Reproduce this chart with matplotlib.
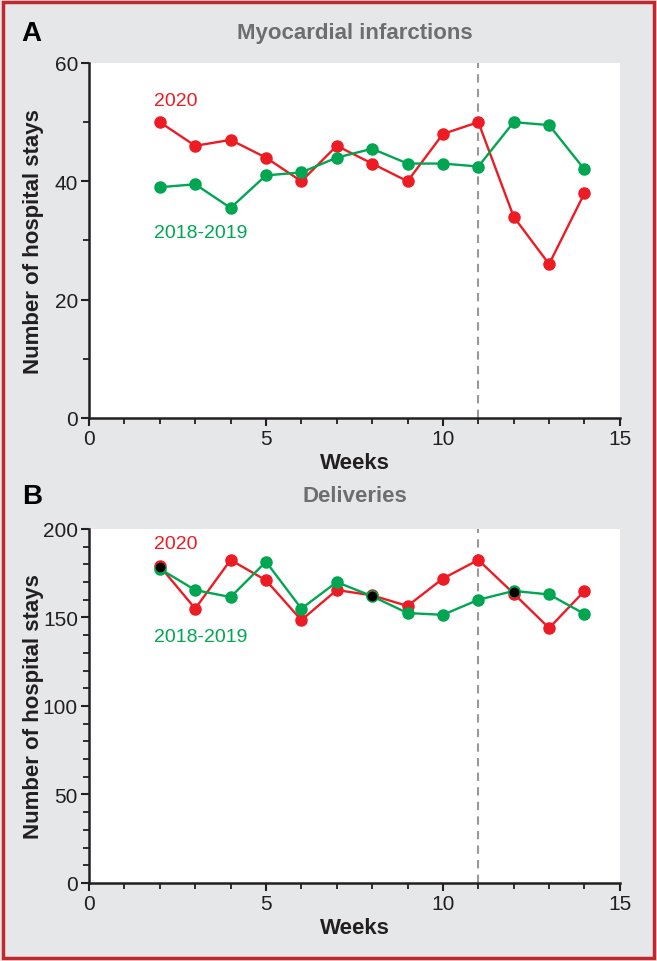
import numpy as np
import matplotlib
matplotlib.use('Agg')
from matplotlib import pyplot as plt
from matplotlib.ticker import MultipleLocator

plt.rcParams['font.family'] = ['Liberation Sans', 'DejaVu Sans']

weeks = [2, 3, 4, 5, 6, 7, 8, 9, 10, 11, 12, 13, 14]

# panel A - myocardial infarctions
mi_2020 = [50, 46, 47, 44, 40, 46, 43, 40, 48, 50, 34, 26, 38]
mi_ref = [39, 39.5, 35.5, 41, 41.5, 44, 45.5, 43, 43, 42.5, 50, 49.5, 42]

# panel B - deliveries
del_2020 = [179, 155, 182.5, 171, 148.5, 165.5, 162.5, 156.5, 172, 182.5, 163.5, 144, 165]
del_ref = [177.5, 165.5, 161.5, 181.5, 155, 170, 162, 152.5, 151.5, 160, 165, 163, 152]

lockdown_week = 11

red = '#ed1c24'
green = '#00a651'
bg = '#e6e7e8'
title_gray = '#6d6e71'
ink = '#231f20'

fig = plt.figure(figsize=(6.57, 9.62), dpi=100)
fig.patch.set_facecolor(bg)

# red frame round the whole figure
frame = plt.Rectangle((0.004, 0.003), 0.992, 0.994, transform=fig.transFigure,
                      fill=False, edgecolor='#c1272d', linewidth=2.5)
fig.patches.append(frame)


def draw_panel(ax, y2020, yref, ymax, major, minor, lab2020, labref):
    ax.set_facecolor('white')
    ax.axvline(lockdown_week, color='#999999', linestyle=(0, (4, 3)), linewidth=1.5, zorder=1)
    ax.plot(weeks, y2020, color=red, linewidth=1.7, marker='o', markersize=8, zorder=3)
    ax.plot(weeks, yref, color=green, linewidth=1.7, marker='o', markersize=8, zorder=3)
    # overlapping markers show up dark in the original
    a = np.array(y2020, dtype=float)
    b = np.array(yref, dtype=float)
    close = np.abs(a - b) < ymax * 0.012
    wk = np.array(weeks)
    ax.plot(wk[close], (a[close] + b[close]) / 2, 'o', color='black', markersize=6, zorder=4)

    ax.set_xlim(0, 15)
    ax.set_ylim(0, ymax)
    ax.xaxis.set_major_locator(MultipleLocator(5))
    ax.xaxis.set_minor_locator(MultipleLocator(1))
    ax.yaxis.set_major_locator(MultipleLocator(major))
    ax.yaxis.set_minor_locator(MultipleLocator(minor))
    for s in ['top', 'right']:
        ax.spines[s].set_visible(False)
    for s in ['left', 'bottom']:
        ax.spines[s].set_linewidth(1.8)
        ax.spines[s].set_color(ink)
    ax.tick_params(which='major', direction='out', length=6, width=1.5, labelsize=15,
                   color=ink, labelcolor=ink, pad=2)
    ax.tick_params(which='minor', direction='out', length=4, width=1.3, color=ink)
    ax.set_xlabel('Weeks', fontsize=16, fontweight='bold', color=ink, labelpad=3)
    ax.set_ylabel('Number of hospital stays', fontsize=16, fontweight='bold', color=ink)
    ax.yaxis.set_label_coords(-0.085, 0.5)
    ax.text(1.83, lab2020, '2020', color=red, fontsize=14, va='center', ha='left')
    ax.text(1.83, labref, '2018-2019', color=green, fontsize=14, va='center', ha='left')


ax1 = fig.add_axes([0.1355, 0.5645, 0.808, 0.369])
draw_panel(ax1, mi_2020, mi_ref, 60, 20, 10, 53.7, 31.3)

ax2 = fig.add_axes([0.1355, 0.0811, 0.808, 0.368])
draw_panel(ax2, del_2020, del_ref, 200, 50, 10, 192, 139.5)

fig.text(0.54, 0.965, 'Myocardial infarctions', fontsize=16, fontweight='bold',
         color=title_gray, ha='center', va='center')
fig.text(0.54, 0.484, 'Deliveries', fontsize=16, fontweight='bold',
         color=title_gray, ha='center', va='center')
fig.text(0.033, 0.965, 'A', fontsize=20, fontweight='bold', color='black', va='center')
fig.text(0.033, 0.483, 'B', fontsize=20, fontweight='bold', color='black', va='center')

fig.savefig('out.png', dpi=100, facecolor=fig.get_facecolor())
